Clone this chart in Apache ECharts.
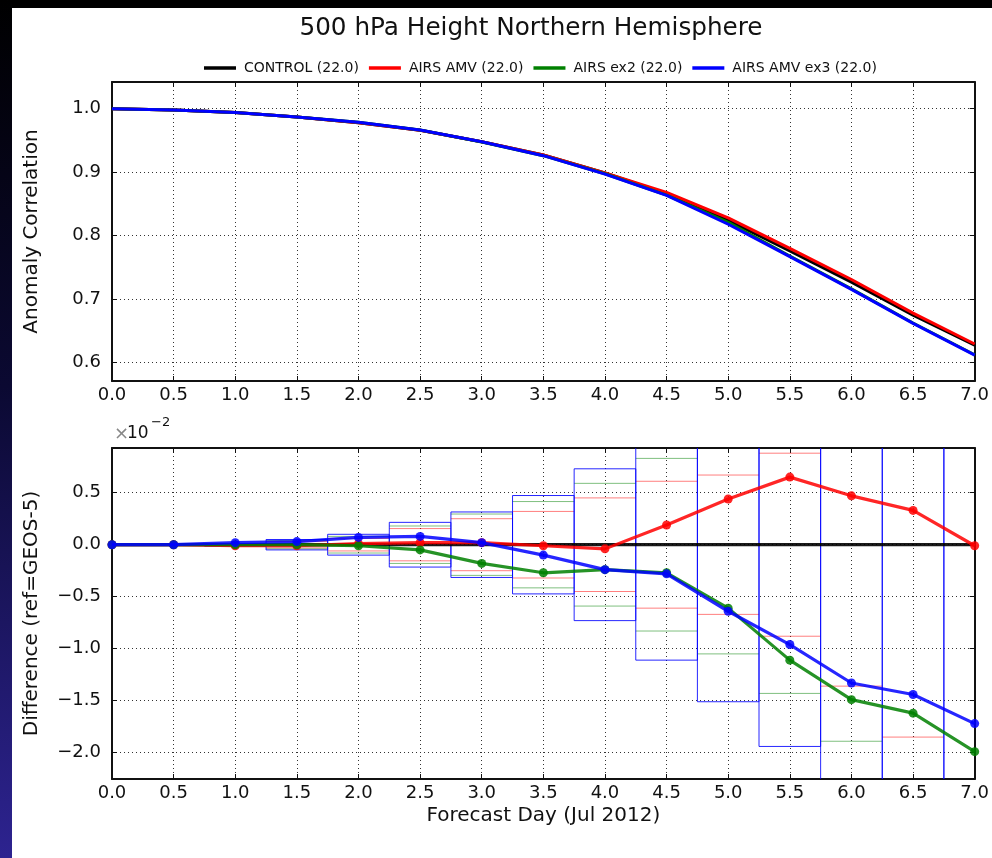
<!DOCTYPE html>
<html><head><meta charset="utf-8">
<script src="https://cdn.jsdelivr.net/npm/echarts@6/dist/echarts.min.js"></script>
<style>html,body{margin:0;padding:0;background:#fff}#c{width:992px;height:858px}</style>
</head><body><div id="c"></div>
<script>
// ---- data ----
const days = [0.0, 0.5, 1.0, 1.5, 2.0, 2.5, 3.0, 3.5, 4.0, 4.5, 5.0, 5.5, 6.0, 6.5, 7.0];
const seriesNames = ['CONTROL (22.0)', 'AIRS AMV (22.0)', 'AIRS ex2 (22.0)', 'AIRS AMV ex3 (22.0)'];
const seriesColors = ['#000000', '#ff0000', '#008000', '#0000ff'];

// Anomaly correlation (top panel)
const acControl = [1.000, 0.998, 0.994, 0.987, 0.978, 0.966, 0.948, 0.927, 0.899, 0.866, 0.824, 0.776, 0.727, 0.675, 0.6275];
const acAmv     = [1.000, 0.998, 0.994, 0.987, 0.978, 0.966, 0.948, 0.927, 0.899, 0.868, 0.828, 0.780, 0.731, 0.678, 0.6295];
const acEx2     = [1.000, 0.998, 0.994, 0.987, 0.9785, 0.9663, 0.9475, 0.926, 0.8975, 0.864, 0.821, 0.768, 0.7162, 0.6625, 0.6125];
const acEx3     = [1.000, 0.998, 0.994, 0.987, 0.9785, 0.9665, 0.948, 0.926, 0.897, 0.8635, 0.818, 0.767, 0.7155, 0.662, 0.612];

// Differences (bottom panel, units of 1e-2)
const diffControl = [0, 0, 0, 0, 0, 0, 0, 0, 0, 0, 0, 0, 0, 0, 0];
const diffAmv     = [0, 0, -0.01, -0.01, 0.01, 0.02, 0.02, -0.01, -0.04, 0.19, 0.44, 0.65, 0.47, 0.33, -0.01];
const diffEx2     = [0, 0, 0, 0, -0.01, -0.05, -0.18, -0.27, -0.24, -0.27, -0.61, -1.11, -1.49, -1.62, -1.99];
const diffEx3     = [0, 0, 0.02, 0.03, 0.07, 0.08, 0.02, -0.10, -0.24, -0.28, -0.64, -0.96, -1.33, -1.44, -1.72];

// Significance half-widths (units of 1e-2)
const ciAmv = [0, 0.005, 0.01, 0.03, 0.06, 0.155, 0.25, 0.32, 0.45, 0.61, 0.67, 0.88, 1.36, 1.85, 2.4];
const ciEx2 = [0, 0.005, 0.01, 0.04, 0.08, 0.18, 0.295, 0.415, 0.59, 0.83, 1.05, 1.43, 1.89, 2.4, 2.8];
const ciEx3 = [0, 0.005, 0.012, 0.05, 0.10, 0.215, 0.315, 0.473, 0.73, 1.11, 1.51, 1.94, 2.5, 2.9, 3.2];

const xTickInterval = 0.5;
const boxHalfWidth = 0.25;

// ---- chart ----
const FONT = 'DejaVu Sans';
const chart = echarts.init(document.getElementById('c'), null, {renderer: 'canvas'});
const pairs = arr => days.map((d, i) => [d, arr[i]]);

const frame = {show: true, onZero: false, lineStyle: {color: '#111', width: 2}};
const tickIn = {show: true, inside: true, length: 5, lineStyle: {color: '#111', width: 1}};
const gridLine = {show: true, lineStyle: {color: '#333', width: 1, type: [1, 3]}};
const tickFont = {fontFamily: FONT, fontSize: 18, color: '#111'};
const nameFont = {fontFamily: FONT, fontSize: 20, color: '#111'};

function xAxisFor(gridIndex, bottom, withName) {
  return {
    type: 'value', gridIndex, position: bottom ? 'bottom' : 'top',
    min: 0, max: 7, interval: xTickInterval,
    axisLine: frame, axisTick: tickIn,
    splitLine: bottom ? gridLine : {show: false},
    axisLabel: bottom ? Object.assign({show: true, margin: 5, formatter: v => v.toFixed(1)}, tickFont) : {show: false},
    name: withName ? 'Forecast Day (Jul 2012)' : '',
    nameLocation: 'middle', nameGap: 27, nameTextStyle: nameFont
  };
}
function yAxisFor(gridIndex, left, min, max, name, fmt) {
  return {
    type: 'value', gridIndex, position: left ? 'left' : 'right',
    min, max, splitNumber: 5,
    axisLine: frame, axisTick: tickIn,
    splitLine: left ? gridLine : {show: false},
    axisLabel: left ? Object.assign({show: true, margin: 11, showMinLabel: false, showMaxLabel: false, formatter: fmt}, tickFont) : {show: false},
    name: left ? name : '',
    nameLocation: 'middle', nameGap: 70, nameTextStyle: nameFont
  };
}

function boxRenderer(color, withSides) {
  return function (params, api) {
    const d = api.value(0), h = api.value(1);
    const cs = params.coordSys;
    const top = cs.y, bot = cs.y + cs.height, lft = cs.x, rgt = cs.x + cs.width;
    const xl = api.coord([d - boxHalfWidth, 0])[0];
    const xr = api.coord([d + boxHalfWidth, 0])[0];
    const yT = api.coord([d, h])[1];
    const yB = api.coord([d, -h])[1];
    const cx0 = Math.max(xl, lft), cx1 = Math.min(xr, rgt);
    const cyT = Math.max(yT, top), cyB = Math.min(yB, bot);
    const style = {stroke: color, lineWidth: 1, fill: null};
    const children = [];
    if (yT >= top) children.push({type: 'line', shape: {x1: cx0, y1: yT, x2: cx1, y2: yT}, style});
    if (yB <= bot) children.push({type: 'line', shape: {x1: cx0, y1: yB, x2: cx1, y2: yB}, style});
    if (withSides) {
      if (xl >= lft - 0.5) children.push({type: 'line', shape: {x1: xl, y1: cyT, x2: xl, y2: cyB}, style});
      if (xr <= rgt + 0.5) children.push({type: 'line', shape: {x1: xr, y1: cyT, x2: xr, y2: cyB}, style});
    }
    return {type: 'group', children};
  };
}

const fmtTop = v => v.toFixed(1);
const fmtBot = v => (v < -1e-9 ? '\u2212' : '') + Math.abs(v).toFixed(1);

const topData = [acControl, acAmv, acEx2, acEx3];
const botData = [diffControl, diffAmv, diffEx2, diffEx3];
const ciData = [ciAmv, ciEx2, ciEx3];
const ciColors = ['rgba(255,0,0,0.5)', 'rgba(0,128,0,0.5)', 'rgba(0,0,255,0.85)'];

const series = [];
topData.forEach((arr, i) => series.push({
  name: seriesNames[i], type: 'line', xAxisIndex: 0, yAxisIndex: 0,
  data: pairs(arr), symbol: 'none', lineStyle: {color: seriesColors[i], width: 3},
  itemStyle: {color: seriesColors[i]}, z: 3 + i, silent: true
}));
ciData.forEach((arr, i) => series.push({
  name: 'ci' + i, type: 'custom', xAxisIndex: 2, yAxisIndex: 2,
  data: pairs(arr), renderItem: boxRenderer(ciColors[i], i === 2), z: 1, silent: true
}));
botData.forEach((arr, i) => series.push({
  name: seriesNames[i], type: 'line', xAxisIndex: 2, yAxisIndex: 2,
  data: pairs(arr), symbol: 'circle', symbolSize: 9, showSymbol: i > 0,
  lineStyle: {color: seriesColors[i], width: 3.2, opacity: i > 0 ? 0.85 : 0.9},
  itemStyle: {color: seriesColors[i], opacity: 0.85}, z: 3 + i, silent: true
}));

const option = {
  animation: false,
  backgroundColor: '#ffffff',
  textStyle: {fontFamily: FONT},
  title: {
    text: '500 hPa Height Northern Hemisphere', left: 526, top: 11, textAlign: 'center',
    textStyle: {fontFamily: FONT, fontSize: 24.7, fontWeight: 'normal', color: '#111'}
  },
  legend: {
    data: seriesNames.map((n, i) => ({name: n, itemStyle: {color: seriesColors[i]}})),
    left: 204, top: 61, padding: 0, itemGap: 10, itemWidth: 32, itemHeight: 3.5, icon: 'rect',
    textStyle: {fontFamily: FONT, fontSize: 14, color: '#111', padding: [0, 0, 0, 3]}
  },
  graphic: [
    {type: 'rect', shape: {x: 0, y: 0, width: 992, height: 8}, style: {fill: '#000'}, silent: true},
    {type: 'rect', shape: {x: 0, y: 0, width: 12, height: 858}, silent: true,
     style: {fill: new echarts.graphic.LinearGradient(0, 0, 0, 1, [
       {offset: 0, color: '#000000'}, {offset: 0.45, color: '#0b0932'}, {offset: 1, color: '#2d2390'}])}},
    {type: 'text', left: 114, top: 425, silent: true,
     style: {text: '×', font: '18px "DejaVu Sans"', fill: '#888'}},
    {type: 'text', left: 127, top: 425, silent: true,
     style: {text: '10', font: '17px "DejaVu Sans"', fill: '#111'}},
    {type: 'text', left: 151, top: 416, silent: true,
     style: {text: '\u22122', font: '13px "DejaVu Sans"', fill: '#111'}}
  ],
  grid: [
    {left: 112, right: 16, top: 82, height: 299},
    {left: 112, right: 16, top: 448, height: 331}
  ],
  xAxis: [
    xAxisFor(0, true, false), xAxisFor(0, false, false),
    xAxisFor(1, true, true), xAxisFor(1, false, false)
  ],
  yAxis: [
    yAxisFor(0, true, 0.5712, 1.042, 'Anomaly Correlation', fmtTop),
    yAxisFor(0, false, 0.5712, 1.042, '', fmtTop),
    yAxisFor(1, true, -2.253, 0.93, 'Difference (ref=GEOS-5)', fmtBot),
    yAxisFor(1, false, -2.253, 0.93, '', fmtBot)
  ],
  series
};
chart.setOption(option);
</script></body></html>
